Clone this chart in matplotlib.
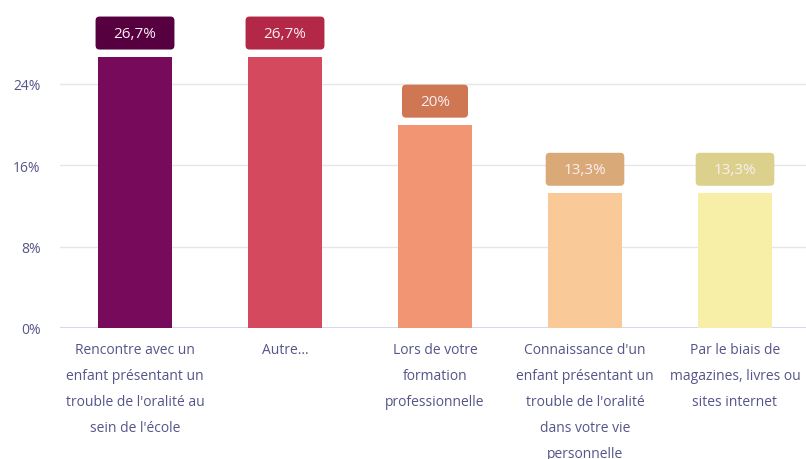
import matplotlib.pyplot as plt
import matplotlib.transforms as mtransforms
from matplotlib.patches import FancyBboxPatch

categories = [
    "Rencontre avec un\nenfant présentant un\ntrouble de l'oralité au\nsein de l'école",
    "Autre...",
    "Lors de votre\nformation\nprofessionnelle",
    "Connaissance d'un\nenfant présentant un\ntrouble de l'oralité\ndans votre vie\npersonnelle",
    "Par le biais de\nmagazines, livres ou\nsites internet",
]
values = [26.7, 26.7, 20, 13.3, 13.3]
value_labels = ["26,7%", "26,7%", "20%", "13,3%", "13,3%"]
yticks = [0, 8, 16, 24]
ytick_labels = ["0%", "8%", "16%", "24%"]

bar_colors = ["#780a5c", "#d4495e", "#f29572", "#f9c997", "#f7efa7"]
box_colors = ["#560040", "#b32847", "#cf7752", "#daa978", "#dbd18c"]
TEXT_C = "#55558a"

plt.rcParams["font.family"] = ["Open Sans", "DejaVu Sans"]

W, H = 806, 460
fig = plt.figure(figsize=(W / 100, H / 100), dpi=100)
ax = fig.add_axes([60 / W, (H - 329) / H, 750 / W, 329 / H])

x = list(range(len(values)))
ax.bar(x, values, width=0.487, color=bar_colors, zorder=3)

ax.set_xlim(-0.5, len(values) - 0.5)
ax.set_ylim(0, 32.36)
ax.set_yticks(yticks)
ax.set_yticklabels(ytick_labels, fontsize=10, color=TEXT_C)
ax.set_xticks(x)
ax.set_xticklabels(categories, fontsize=10, color=TEXT_C, linespacing=2.0, va="top")
ax.tick_params(axis="x", length=0, pad=10)
ax.tick_params(axis="y", length=0, pad=14)
ax.grid(True, axis="y", color="#e6e6e6", lw=1, zorder=0)
for s in ax.spines.values():
    s.set_visible(False)
ax.axhline(0, color="#ccd3ea", lw=1.2, zorder=2)

# value labels in rounded boxes above each bar
renderer = fig.canvas.get_renderer()
for xi, v, lab, bc in zip(x, values, value_labels, box_colors):
    off = mtransforms.ScaledTranslation(0, 23.5 / 100, fig.dpi_scale_trans)
    t = ax.text(xi, v, lab, ha="center", va="center", fontsize=11,
                color="#fbeef3", transform=ax.transData + off, zorder=6)
    bb = t.get_window_extent(renderer)
    w = (bb.width + 36) / 100
    h = 33 / 100
    box_tr = fig.dpi_scale_trans + mtransforms.ScaledTranslation(xi, v, ax.transData)
    patch = FancyBboxPatch((-w / 2, 7 / 100), w, h,
                           boxstyle="round,pad=0,rounding_size=0.04",
                           transform=box_tr, facecolor=bc, edgecolor="none",
                           zorder=5, clip_on=False)
    ax.add_patch(patch)

fig.savefig("out.png", dpi=100)
